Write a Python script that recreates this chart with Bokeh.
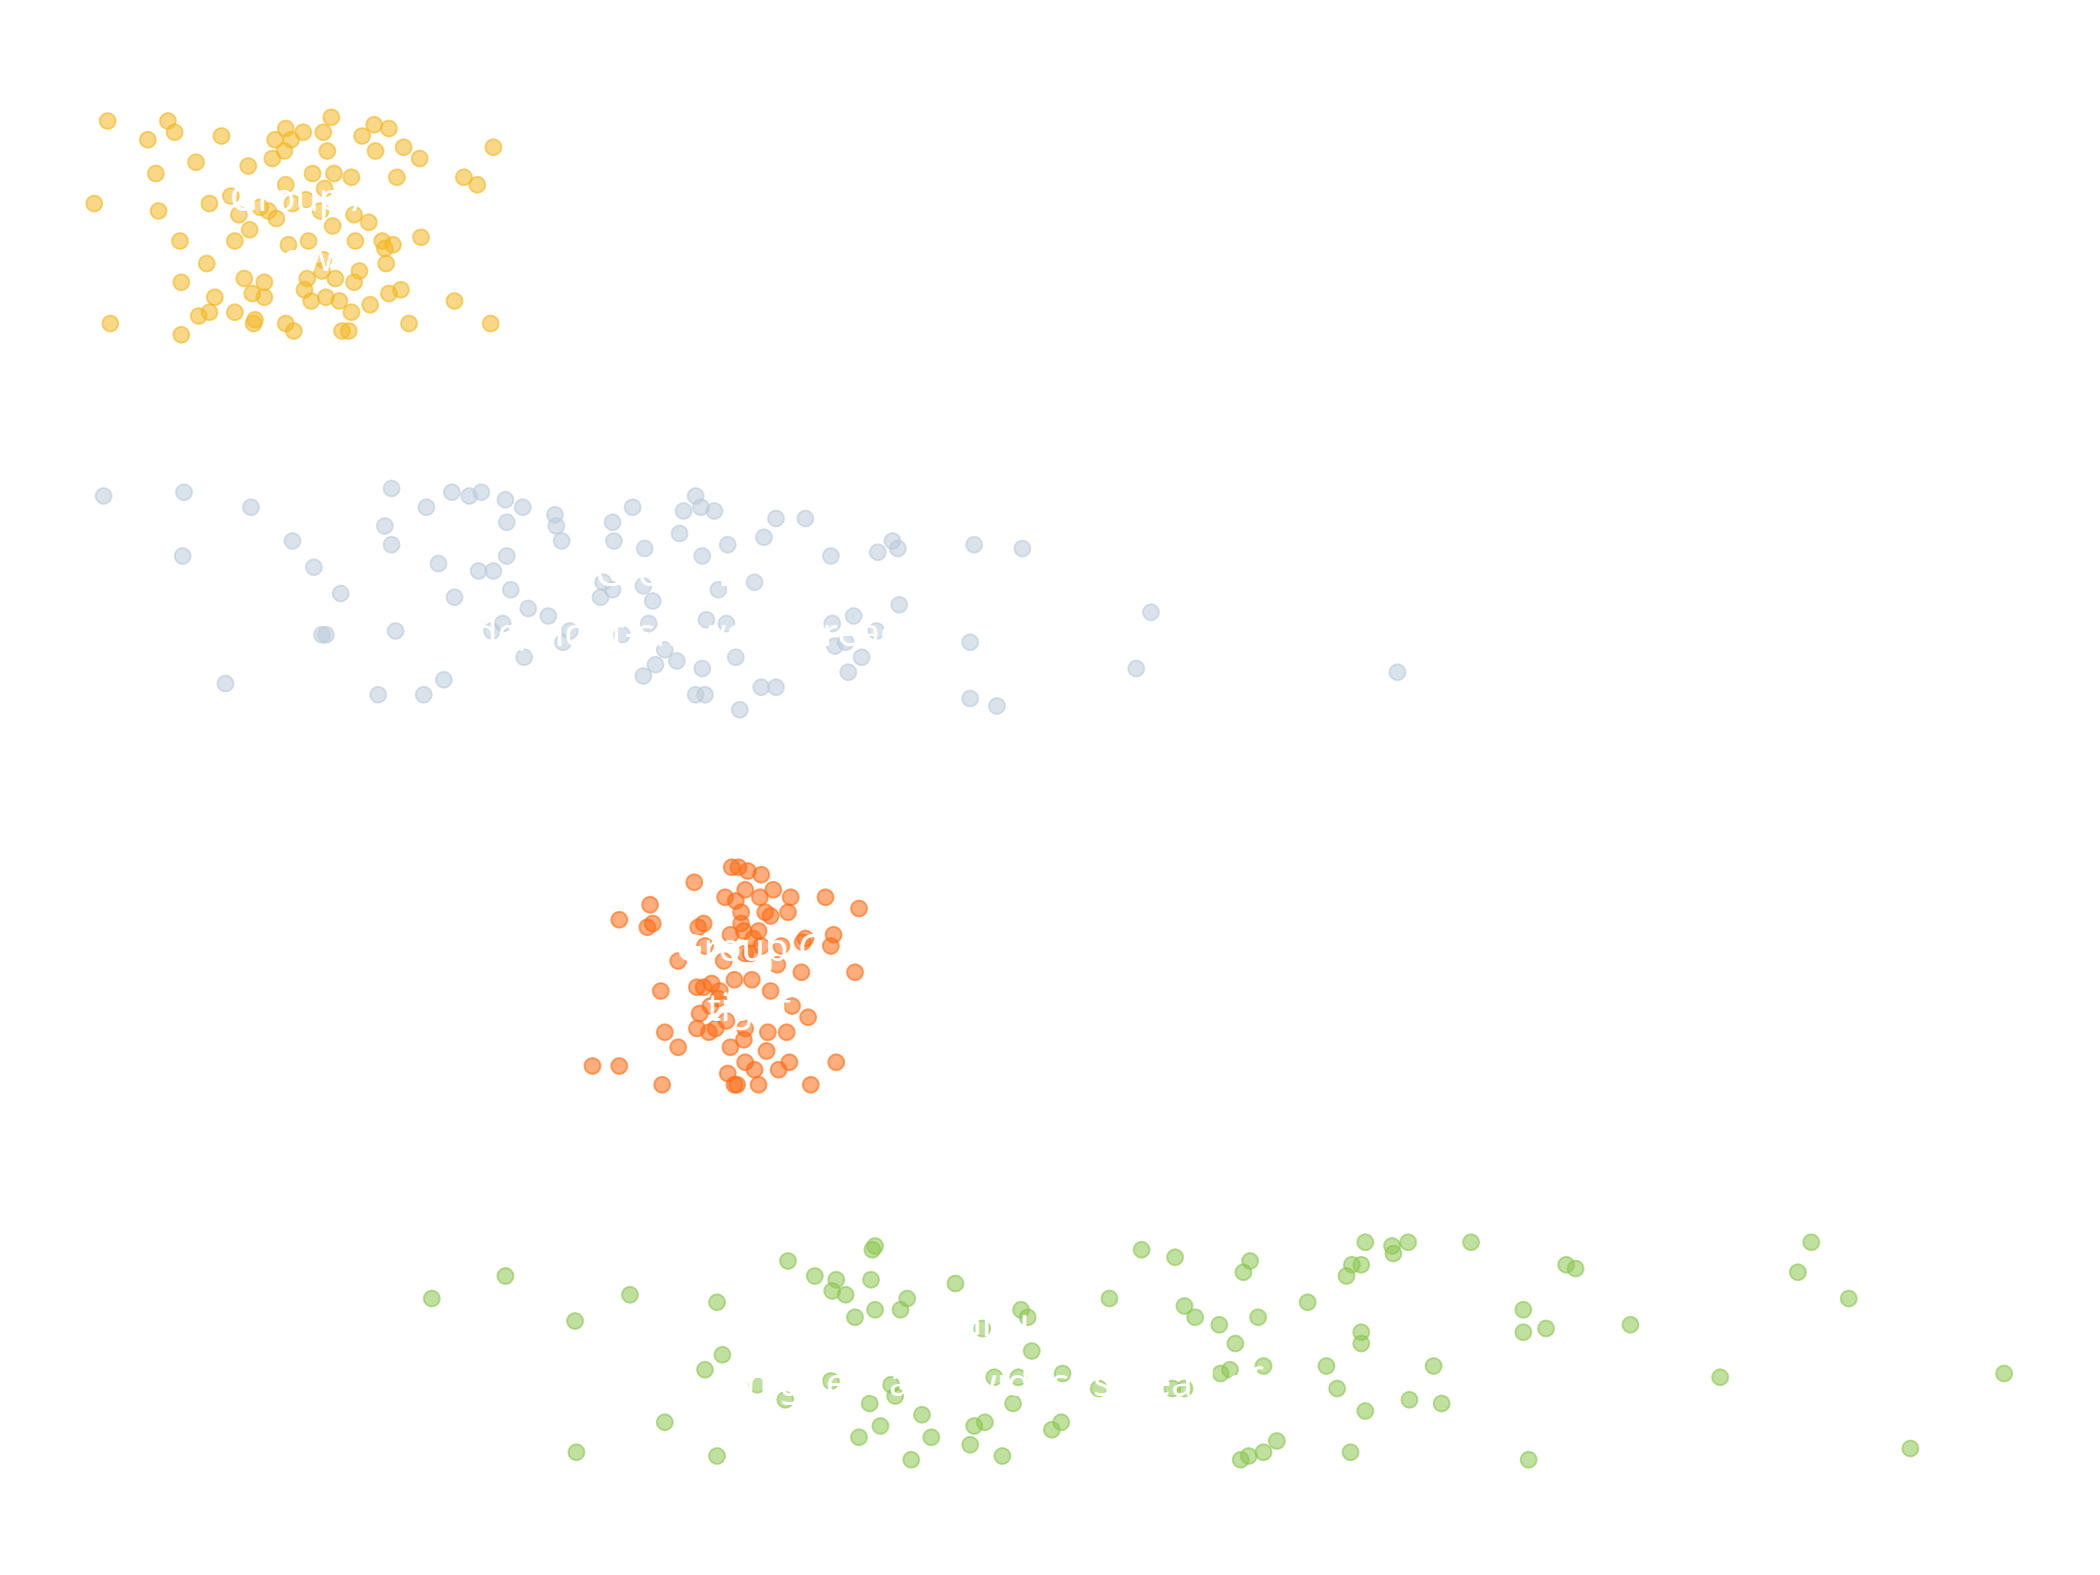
from bokeh.plotting import figure
from bokeh.models import Range1d, FactorRange, ColumnDataSource
from bokeh.embed import file_html
from bokeh.resources import INLINE
from bokeh.core.properties import value

categories = ["Group D", "Group C", "Group B", "Group A"]  # bottom to top
labels = {"Group A": "Group A\nlow", "Group B": "Group B\nwide, right-skewed spread",
          "Group C": "Group C\ntight", "Group D": "Group D\nhighest and widest spread of all"}
label_x = {"Group A": 22.6, "Group B": 49.9, "Group C": 55.9, "Group D": 76.8}
colors = {"Group A": "#F2B824", "Group B": "#BCCCDA", "Group C": "#FF6A13", "Group D": "#8CC751"}

a_x = [8.0, 12.5, 13.0, 11.0, 16.5, 21.3, 22.6, 24.1, 24.7, 27.9, 29.0, 27.0, 20.5, 21.7, 21.2, 20.3, 18.5, 14.6, 11.6,
       24.4, 28.0, 30.1, 31.3, 29.6, 34.6, 35.6, 36.8, 23.3, 24.9, 26.2, 21.3, 24.2, 22.8, 17.2, 15.6, 7.0, 11.8, 17.8,
       19.4, 20.0, 20.6, 21.8, 23.9, 26.4, 27.5, 24.8, 18.6, 17.5, 13.4, 21.5, 23.0, 26.5, 28.5, 29.3, 28.7, 31.4, 24.1,
       15.4, 28.8, 26.8, 24.0, 18.2, 19.7, 22.9, 25.0, 26.4, 13.5, 16.0, 18.8, 19.7, 22.7, 23.2, 24.3, 25.3, 27.6, 29.0,
       29.9, 33.9, 17.5, 19.0, 18.9, 14.8, 15.6, 21.3, 21.9, 25.5, 26.0, 26.2, 30.5, 36.6, 8.2, 13.5]
a_j = [0.28, 0.28, 0.25, 0.23, 0.24, 0.26, 0.25, 0.25, 0.29, 0.27, 0.26, 0.24, 0.23, 0.23, 0.20, 0.18, 0.16, 0.17, 0.14,
       0.20, 0.20, 0.21, 0.18, 0.13, 0.13, 0.11, 0.21, 0.14, 0.14, 0.13, 0.11, 0.10, 0.07, 0.08, 0.06, 0.06, 0.04, 0.03,
       0.05, 0.04, 0.02, 0.06, 0.04, 0.03, 0.01, 0.00, -0.01, -0.04, -0.04, -0.05, -0.04, -0.04, -0.04, -0.05, -0.06, -0.03, -0.09,
       -0.10, -0.10, -0.12, -0.12, -0.14, -0.15, -0.14, -0.14, -0.15, -0.15, -0.19, -0.18, -0.19, -0.17, -0.20, -0.19, -0.20, -0.21, -0.18,
       -0.17, -0.20, -0.23, -0.25, -0.26, -0.24, -0.23, -0.26, -0.28, -0.28, -0.28, -0.23, -0.26, -0.26, -0.26, -0.29]

b_x = [7.7, 13.7, 13.6, 18.7, 21.8, 23.4, 25.4, 24.0, 24.3, 16.8, 29.2, 28.7, 29.2, 31.8, 33.7, 35.0, 35.9, 37.7, 39.0,
       37.8, 41.4, 41.5, 41.9, 45.7, 47.2, 45.8, 48.1, 51.0, 51.9, 52.3, 53.3, 50.7, 52.4, 54.3, 57.0, 57.9, 60.1, 32.7,
       35.7, 37.8, 38.1, 33.9, 39.4, 40.9, 44.8, 45.0, 45.7, 48.7, 53.6, 56.3, 29.5, 37.5, 36.7, 42.5, 46.4, 48.4, 52.7,
       54.2, 39.1, 42.0, 49.6, 48.9, 50.5, 52.4, 54.9, 48.0, 28.2, 31.6, 33.1, 51.9, 52.6, 55.2, 56.8, 57.9, 62.0, 65.5,
       66.6, 67.0, 67.1, 63.7, 62.1, 65.4, 62.3, 63.1, 64.3, 63.3, 72.7, 76.3, 72.4, 85.9, 84.8, 72.4, 74.4, 104.3, 36.8, 48.0]
b_j = [0.28, 0.29, 0.12, 0.25, 0.16, 0.09, 0.02, -0.09, -0.09, -0.22, 0.30, 0.20, 0.15, 0.25, 0.29, 0.28, 0.29, 0.27, 0.25,
       0.21, 0.23, 0.20, 0.16, 0.21, 0.25, 0.16, 0.14, 0.24, 0.28, 0.25, 0.24, 0.18, 0.12, 0.15, 0.17, 0.22, 0.22, 0.10,
       0.08, 0.12, 0.03, 0.01, -0.02, -0.04, 0.01, 0.05, 0.03, 0.00, 0.03, 0.05, -0.08, -0.06, -0.08, -0.08, -0.09, -0.06, -0.05,
       -0.06, -0.15, -0.11, -0.13, -0.17, -0.16, -0.18, -0.15, -0.20, -0.25, -0.25, -0.21, -0.25, -0.25, -0.29, -0.23, -0.23, 0.12, 0.13,
       0.16, 0.14, -0.01, -0.04, -0.06, -0.08, -0.12, -0.11, -0.15, -0.19, 0.15, 0.14, -0.11, -0.03, -0.18, -0.26, -0.28, -0.19, 0.08, 0.04]

c_x = [54.6, 55.1, 55.8, 56.8, 51.8, 48.5, 46.2, 48.7, 48.3, 54.1, 54.9, 55.6, 56.7, 57.7, 59.0, 61.6, 64.1, 55.3, 57.1,
       57.5, 58.8, 52.1, 52.5, 55.3, 55.5, 54.5, 56.6, 58.3, 59.9, 60.1, 62.2, 62.0, 52.6, 50.6, 54.0, 55.6, 56.0, 56.8,
       58.0, 59.8, 63.8, 49.3, 52.5, 53.1, 53.7, 54.8, 56.1, 57.5, 59.1, 49.6, 50.6, 52.0, 52.9, 53.4, 54.2, 55.5, 57.3,
       58.7, 60.3, 57.2, 55.6, 44.2, 46.2, 49.4, 54.3, 54.8, 55.6, 56.3, 56.6, 58.1, 58.9, 60.5, 62.4, 55.0, 53.6, 53.0,
       52.2, 52.0, 56.2, 54.5]
c_j = [0.29, 0.29, 0.28, 0.27, 0.25, 0.19, 0.15, 0.14, 0.13, 0.21, 0.20, 0.23, 0.21, 0.23, 0.21, 0.21, 0.18, 0.17, 0.17,
       0.16, 0.17, 0.13, 0.14, 0.14, 0.12, 0.11, 0.12, 0.08, 0.09, 0.10, 0.11, 0.08, 0.08, 0.04, 0.04, 0.06, 0.06, 0.08,
       0.03, 0.01, 0.01, -0.04, -0.03, -0.02, -0.04, -0.01, -0.01, -0.04, -0.08, -0.15, -0.19, -0.14, -0.15, -0.14, -0.12, -0.17, -0.15,
       -0.15, -0.11, -0.20, -0.14, -0.24, -0.24, -0.29, -0.26, -0.29, -0.23, -0.25, -0.29, -0.25, -0.23, -0.29, -0.23, -0.29, -0.06, -0.08,
       -0.10, -0.03, 0.10, -0.19]

d_x = [32.2, 37.7, 42.9, 47.0, 43.0, 49.6, 53.5, 53.9, 52.6, 53.5, 56.5, 58.6, 58.8, 60.8, 62.4, 62.1, 63.1, 65.1, 65.3,
       65.0, 65.3, 63.8, 67.7, 67.2, 62.0, 64.9, 66.5, 66.8, 64.1, 65.7, 68.0, 68.8, 69.5, 71.3, 72.4, 72.7, 73.5, 74.8,
       73.3, 74.2, 76.0, 75.6, 76.2, 76.7, 77.0, 78.5, 79.2, 79.3, 82.0, 82.8, 85.2, 87.7, 87.5, 88.4, 88.4, 89.2, 91.0,
       91.1, 91.8, 92.2, 92.8, 93.3, 93.9, 94.3, 92.6, 93.2, 94.3, 95.3, 97.6, 99.0, 99.8, 100.5, 100.9, 101.6, 101.9, 101.6,
       101.6, 101.9, 100.8, 103.9, 104.0, 105.1, 105.2, 107.0, 107.6, 109.8, 113.7, 113.7, 115.4, 114.1, 116.9, 117.6, 121.7,
       128.4, 134.2, 135.2, 138.0, 142.6, 149.6]
d_j = [0.14, 0.20, 0.08, 0.15, -0.27, -0.19, 0.13, -0.01, -0.05, -0.28, -0.09, -0.13, 0.24, 0.20, 0.19, 0.16, 0.15, 0.27, 0.28,
       0.19, 0.11, 0.09, 0.14, 0.11, -0.08, -0.14, -0.09, -0.12, -0.23, -0.20, -0.29, -0.17, -0.23, 0.18, -0.25, -0.20, -0.19, -0.28,
       0.06, -0.07, -0.07, -0.14, 0.11, 0.09, 0.00, -0.21, -0.19, -0.06, -0.10, 0.14, 0.27, 0.25, -0.10, -0.10, 0.12, 0.09, 0.07,
       -0.06, -0.05, 0.02, 0.21, 0.24, 0.09, -0.04, -0.29, -0.28, -0.27, -0.24, 0.13, -0.04, -0.10, 0.20, 0.23, 0.23, 0.29, 0.05,
       0.02, -0.16, -0.27, 0.28, 0.26, 0.29, -0.13, -0.04, -0.14, 0.29, 0.11, 0.05, 0.06, -0.29, 0.23, 0.22, 0.07,
       -0.07, 0.21, 0.29, 0.14, -0.26, -0.06]

groups = {"Group A": (a_x, a_j), "Group B": (b_x, b_j), "Group C": (c_x, c_j), "Group D": (d_x, d_j)}

p = figure(width=2084, height=1560, y_range=FactorRange(factors=categories, range_padding=0),
           x_range=Range1d(0.0, 155.6),
           output_backend="svg", toolbar_location=None, min_border_left=0, min_border_right=0,
           min_border_top=38, min_border_bottom=22)
p.xaxis.visible = False
p.yaxis.visible = False
p.xgrid.visible = False
p.ygrid.visible = False
p.outline_line_color = None

for cat, (xs, js) in groups.items():
    src = ColumnDataSource(dict(x=xs, y=[(cat, j) for j in js]))
    p.scatter(x="x", y="y", source=src, size=16, line_width=2,
              fill_color=colors[cat], line_color=colors[cat], fill_alpha=0.55, line_alpha=0.6)

for cat in groups:
    src = ColumnDataSource(dict(x=[label_x[cat]], y=[cat], t=[labels[cat]]))
    p.text(x="x", y="y", text="t", source=src, text_color="white", text_align="center",
           text_baseline="middle", text_font_size="38px", text_line_height=1.15,
           text_font=value("Noto Sans"))

open("out.html", "w").write(file_html(p, INLINE))
